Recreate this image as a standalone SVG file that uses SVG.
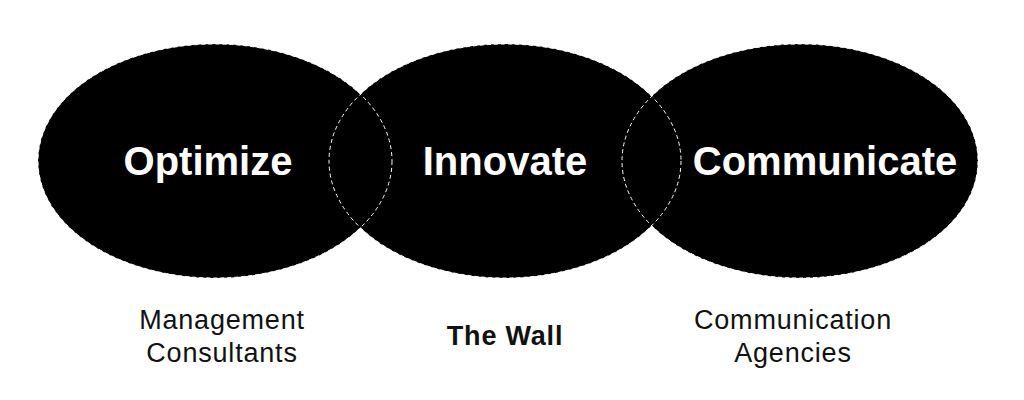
<svg xmlns="http://www.w3.org/2000/svg" width="1024" height="400" viewBox="0 0 1024 400">
<style>
.e{fill:#000}
.d{fill:none;stroke:#fff;stroke-width:1;stroke-dasharray:4 3}
.t{font-family:"Liberation Sans",Arial,sans-serif;font-weight:bold;font-size:40px;fill:#fff;text-anchor:middle}
.s{font-family:"Liberation Sans",Arial,sans-serif;font-size:27px;letter-spacing:0.8px;fill:#111;text-anchor:middle}
</style>
<rect width="1024" height="400" fill="#fff"/>
<g id="fills">
<ellipse class="e" cx="215" cy="161" rx="177" ry="117"/>
<ellipse class="e" cx="505" cy="161" rx="176" ry="117"/>
<ellipse class="e" cx="800" cy="161" rx="178" ry="117"/>
</g>
<g id="connectors">
<ellipse class="d" cx="215" cy="161" rx="177" ry="117"/>
<ellipse class="d" cx="505" cy="161" rx="176" ry="117"/>
<ellipse class="d" cx="800" cy="161" rx="178" ry="117"/>
</g>
<g id="optimize"><text class="t" x="208" y="175">Optimize</text></g>
<g id="innovate"><text class="t" x="505" y="175">Innovate</text></g>
<g id="communicate"><text class="t" x="825" y="175">Communicate</text></g>
<g id="mgmt"><text class="s" x="222" y="329">Management</text><text class="s" x="222" y="362">Consultants</text></g>
<g id="wall"><text class="s" x="505" y="345" font-weight="bold">The Wall</text></g>
<g id="comm"><text class="s" x="793" y="329">Communication</text><text class="s" x="793" y="362">Agencies</text></g>
</svg>
